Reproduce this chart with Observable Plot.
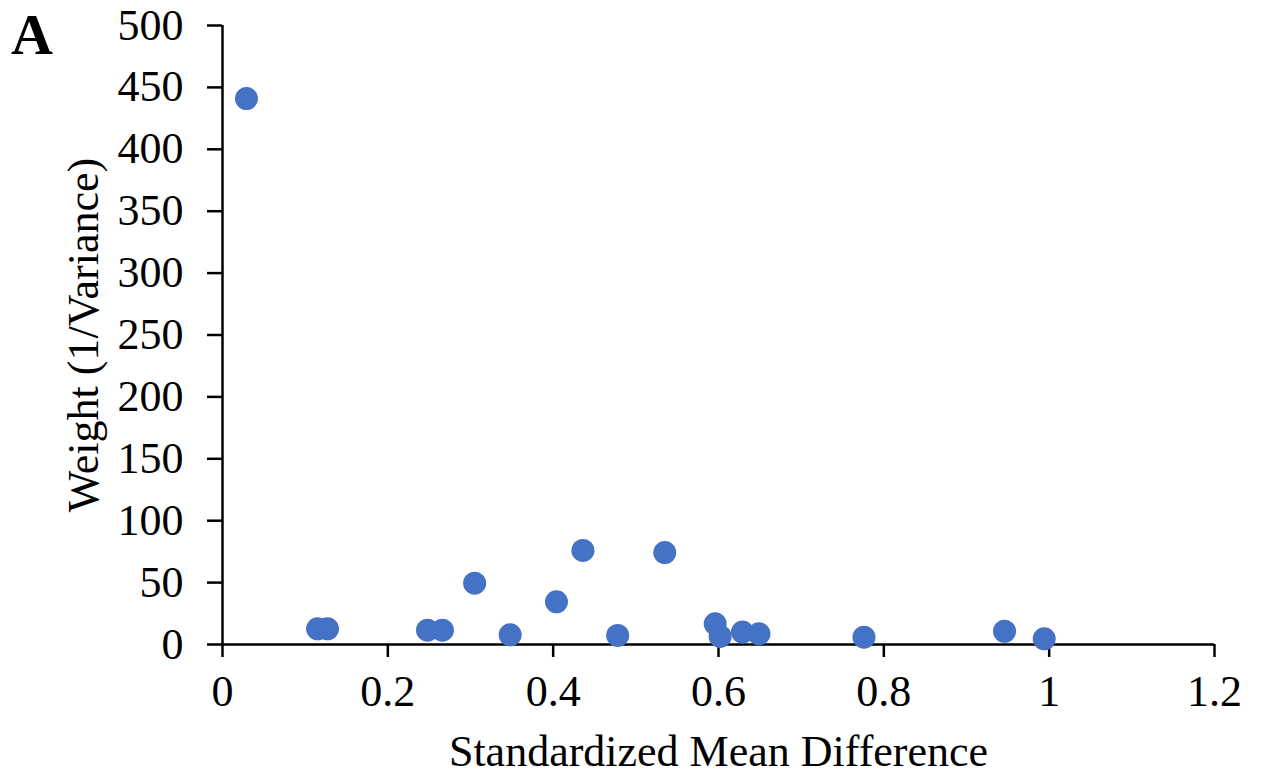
<!DOCTYPE html>
<html>
<head>
<meta charset="utf-8">
<script src="https://cdn.jsdelivr.net/npm/d3@7"></script>
<script src="https://cdn.jsdelivr.net/npm/@observablehq/plot@0.6"></script>
<style>
  html, body { margin: 0; padding: 0; background: #fff; }
  #wrap { position: relative; width: 1261px; height: 778px; }
  #wrap svg text { font-family: "Liberation Serif", "Times New Roman", serif !important; }
  #panel { position: absolute; left: 11px; top: 6px; font: bold 58px "Liberation Serif", "Times New Roman", serif; color: #000; line-height: 1; }
</style>
</head>
<body>
<div id="wrap"><div id="panel">A</div></div>
<script>
const smd    = [0.029, 0.115, 0.127, 0.248, 0.266, 0.305, 0.348, 0.404, 0.436, 0.478, 0.535, 0.596, 0.602, 0.629, 0.649, 0.776, 0.946, 0.994];
const weight = [441, 12.7, 12.7, 11.6, 11.6, 49.5, 7.8, 34.5, 76, 7.3, 74.3, 16.7, 6.5, 10, 8.6, 5.9, 10.7, 4.6];
const xTicks = [0, 0.2, 0.4, 0.6, 0.8, 1, 1.2];
const yTicks = [0, 50, 100, 150, 200, 250, 300, 350, 400, 450, 500];
const xLabel = "Standardized Mean Difference";
const yLabel = "Weight (1/Variance)";

const data = smd.map((x, i) => ({x, y: weight[i]}));
const serif = '"Liberation Serif", "Times New Roman", serif';

const chart = Plot.plot({
  width: 1261,
  height: 778,
  marginLeft: 222,
  marginRight: 47,
  marginTop: 25,
  marginBottom: 134,
  style: {fontFamily: serif, fontSize: "44px", color: "#000", background: "#fff"},
  x: {domain: [0, 1.2]},
  y: {domain: [0, 500]},
  marks: [
    Plot.axisX({ticks: xTicks, tickFormat: d => String(d), tickSize: 13, tickPadding: 17, strokeWidth: 2.5,
      fontFamily: serif, fontSize: 44, label: null}),
    Plot.axisY({ticks: yTicks, tickFormat: d => String(d), tickSize: 15, tickPadding: 24, strokeWidth: 2.5,
      fontFamily: serif, fontSize: 44, label: null}),
    Plot.text([xLabel], {frameAnchor: "bottom", lineAnchor: "bottom", textAnchor: "middle", dy: 121, fontFamily: serif, fontSize: 44, fill: "#000"}),
    Plot.text([yLabel], {frameAnchor: "left", lineAnchor: "bottom", textAnchor: "middle", rotate: -90, dx: -125, fontFamily: serif, fontSize: 44, fill: "#000"}),
    Plot.ruleX([0], {stroke: "#000", strokeWidth: 2.5}),
    Plot.ruleY([0], {stroke: "#000", strokeWidth: 2.5}),
    Plot.dot(data, {x: "x", y: "y", r: 11.5, fill: "#4472C4", stroke: "none"})
  ]
});
document.getElementById("wrap").prepend(chart);
</script>
</body>
</html>
